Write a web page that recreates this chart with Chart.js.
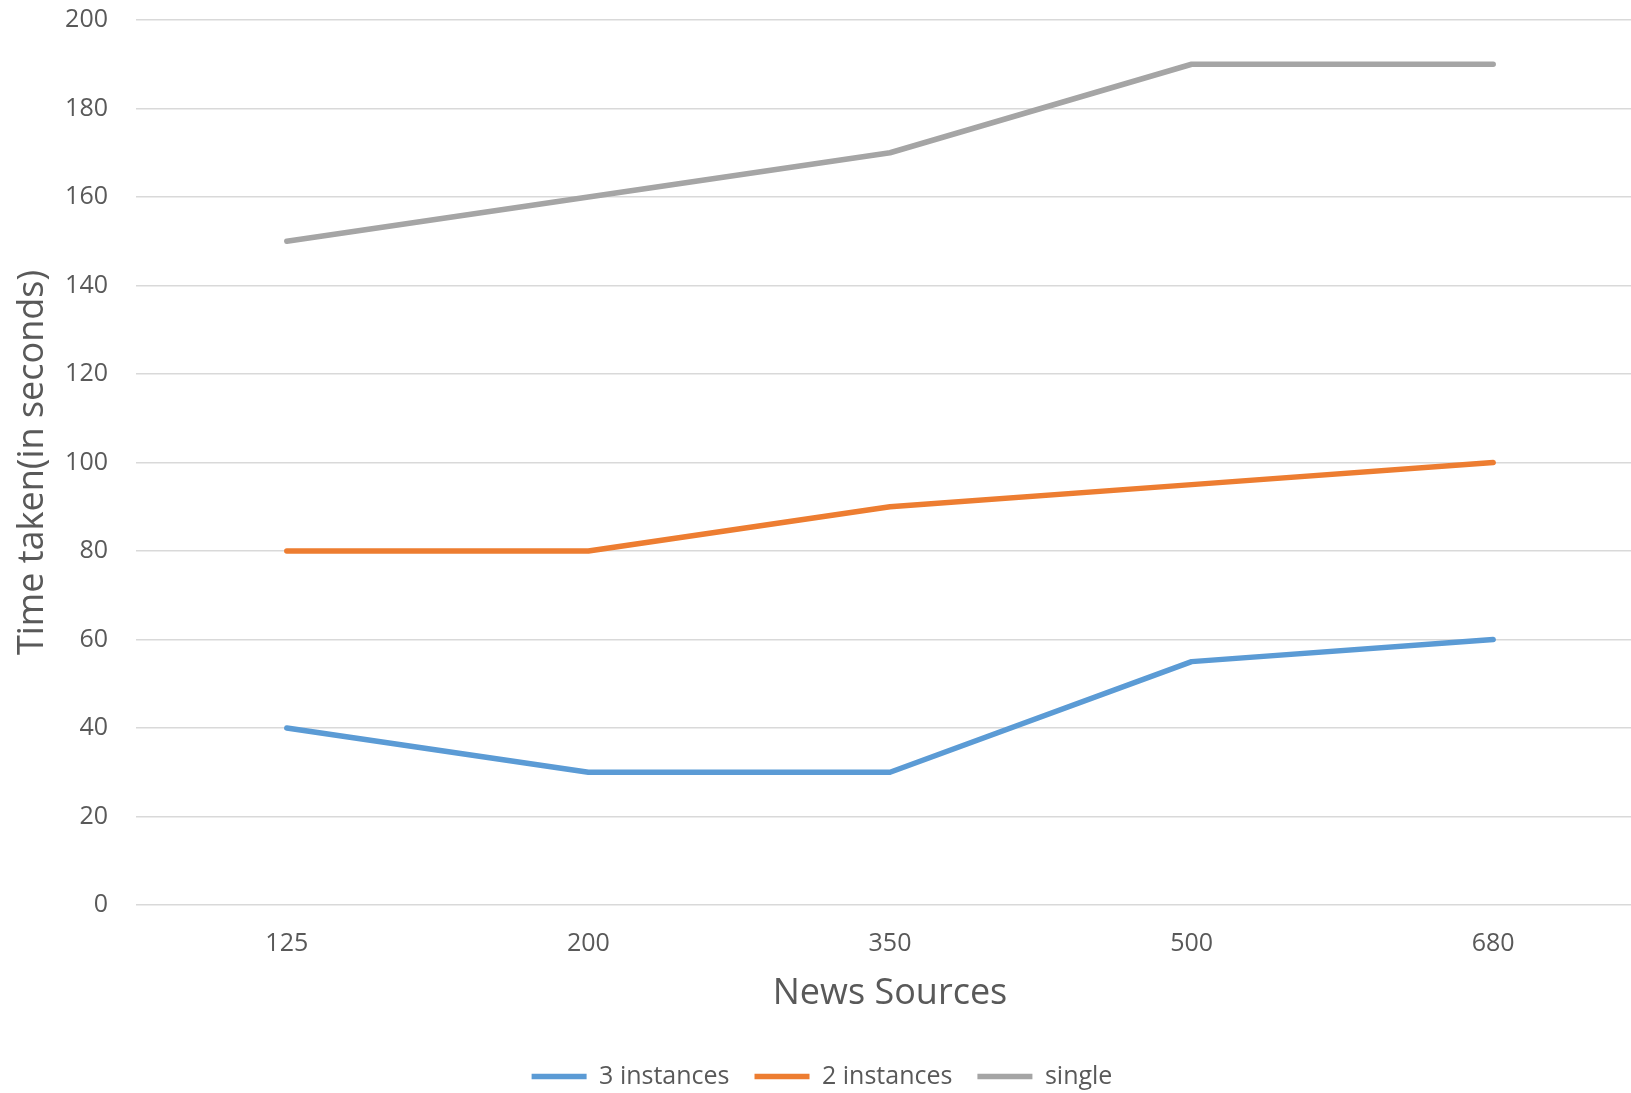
<!DOCTYPE html>
<html>
<head>
<meta charset="utf-8">
<script src="https://cdn.jsdelivr.net/npm/chart.js@4"></script>
<style>
    html, body { margin: 0; padding: 0; overflow: hidden; background: #fff; }
    #wrap { position: absolute; left: 0; top: 0; width: 1644px; height: 1099px; }
</style>
</head>
<body>
<div id="wrap"><canvas id="timeChart"></canvas></div>
<script>
const sources = ['125', '200', '350', '500', '680'];
const threeInstances = [40, 30, 30, 55, 60];
const twoInstances = [80, 80, 90, 95, 100];
const singleInstance = [150, 160, 170, 190, 190];

const textColor = '#595959';
const fontName = "'Open Sans', 'Noto Sans', sans-serif";

function lineSet(label, data, color) {
    return {
        label: label,
        data: data,
        borderColor: color,
        backgroundColor: color,
        borderWidth: 5.5,
        borderCapStyle: 'round',
        borderJoinStyle: 'round',
        pointRadius: 0,
        tension: 0,
        fill: false
    };
}

const ctx = document.getElementById('timeChart').getContext('2d');
new Chart(ctx, {
    type: 'line',
    data: {
        labels: sources,
        datasets: [
            lineSet('3 instances', threeInstances, '#5B9BD5'),
            lineSet('2 instances', twoInstances, '#ED7D31'),
            lineSet('single', singleInstance, '#A5A5A5')
        ]
    },
    options: {
        responsive: true,
        maintainAspectRatio: false,
        animation: false,
        layout: {
            padding: { top: 20, left: 0, right: 0, bottom: 0 }
        },
        scales: {
            x: {
                offset: true,
                grid: { display: false, drawTicks: false },
                border: { display: false },
                ticks: {
                    color: textColor,
                    padding: 24,
                    font: { family: fontName, size: 25 }
                },
                title: {
                    display: true,
                    text: 'News Sources',
                    color: textColor,
                    padding: { top: 0, bottom: 24 },
                    font: { family: fontName, size: 36 }
                },
                afterFit: (scale) => { scale.height = 134; }
            },
            y: {
                min: 0,
                max: 200,
                grid: { color: '#D9D9D9', lineWidth: 1.5, drawTicks: false },
                border: { display: false },
                ticks: {
                    stepSize: 20,
                    color: textColor,
                    padding: 28,
                    font: { family: fontName, size: 25 }
                },
                title: {
                    display: true,
                    text: 'Time taken(in seconds)',
                    color: textColor,
                    padding: { top: 11, bottom: 0 },
                    font: { family: fontName, size: 36 }
                },
                afterFit: (scale) => {
                    scale.width = 136;
                    // tick padding should not push the plot down
                    scale.paddingTop = 0;
                    scale.paddingBottom = 0;
                }
            }
        },
        plugins: {
            legend: {
                display: true,
                position: 'bottom',
                labels: {
                    usePointStyle: true,
                    pointStyle: 'line',
                    pointStyleWidth: 55,
                    padding: 25,
                    color: textColor,
                    font: { family: fontName, size: 25 }
                }
            },
            tooltip: { enabled: false }
        }
    }
});
</script>
</body>
</html>
